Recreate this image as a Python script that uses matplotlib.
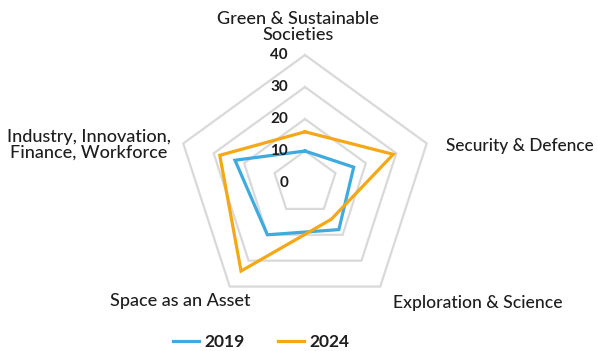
import numpy as np
import matplotlib
matplotlib.use("Agg")
import matplotlib.pyplot as plt
from matplotlib.lines import Line2D

# ── Data ──────────────────────────────────────────────────────────────────────
categories = [
    "Green & Sustainable\nSocieties",
    "Security & Defence",
    "Exploration & Science",
    "Space as an Asset",
    "Industry, Innovation,\nFinance, Workforce",
]
values_2019 = [10, 16, 18, 20, 23]
values_2024 = [16, 29, 14, 34, 28]
ring_levels = [10, 20, 30, 40]
tick_labels = ["0", "10", "20", "30", "40"]
series_names = ["2019", "2024"]

BLUE = "#3EAADD"
ORANGE = "#F5A816"
GRID = "#D9D9D9"
TEXT = "#1E1E1E"

plt.rcParams["font.family"] = ["Lato", "DejaVu Sans"]

# angles: start at top, clockwise
n = len(categories)
angles = np.pi / 2 - np.arange(n) * 2 * np.pi / n


def to_xy(vals):
    vals = np.asarray(vals, dtype=float)
    x = vals * np.cos(angles)
    y = vals * np.sin(angles)
    return np.append(x, x[0]), np.append(y, y[0])


W, H = 598, 351
fig = plt.figure(figsize=(W / 100, H / 100), dpi=100)
ax = fig.add_axes([0, 0, 1, 1])

# pixel layout: centre at (305, 183) px, 40 units -> 128 px
scale = 128 / 40
cx, cy = 305, 183
ax.set_xlim(-cx / scale, (W - cx) / scale)
ax.set_ylim(-(H - cy) / scale, cy / scale)
ax.axis("off")

# pentagon gridlines
for lvl in ring_levels:
    gx, gy = to_xy([lvl] * n)
    ax.plot(gx, gy, color=GRID, lw=1.6, zorder=1, solid_joinstyle="miter")

# radial tick labels
for i, lbl in enumerate(tick_labels):
    ax.text(-5.3, i * 10, lbl, ha="right", va="center", fontsize=11,
            color=TEXT, fontweight="bold", zorder=5)

# series
for vals, col in [(values_2019, BLUE), (values_2024, ORANGE)]:
    sx, sy = to_xy(vals)
    ax.plot(sx, sy, color=col, lw=2.3, zorder=3, solid_joinstyle="miter")

# category labels (placed in pixel coords)
def px(x, y):
    return ((x - cx) / scale, (cy - y) / scale)

label_pos = [
    (px(298, 27), "center", 13),
    (px(446, 146), "left", 12.4),
    (px(393, 303), "left", 12.6),
    (px(250, 301), "right", 13),
    (px(89, 145), "center", 13),
]
for cat, (xy, ha, fs) in zip(categories, label_pos):
    ax.text(xy[0], xy[1], cat, ha=ha, va="center", fontsize=fs, color=TEXT,
            fontweight="medium", linespacing=1.0)

# legend
handles = [Line2D([0], [0], color=BLUE, lw=2.3),
           Line2D([0], [0], color=ORANGE, lw=2.3)]
fig.legend(handles, series_names, loc="center", bbox_to_anchor=(0.437, 0.025),
           ncol=2, frameon=False, prop={"size": 12.5, "weight": "bold"},
           handlelength=1.5, handletextpad=0.3, columnspacing=1.9,
           labelcolor=TEXT)

fig.savefig("out.png", dpi=100)
